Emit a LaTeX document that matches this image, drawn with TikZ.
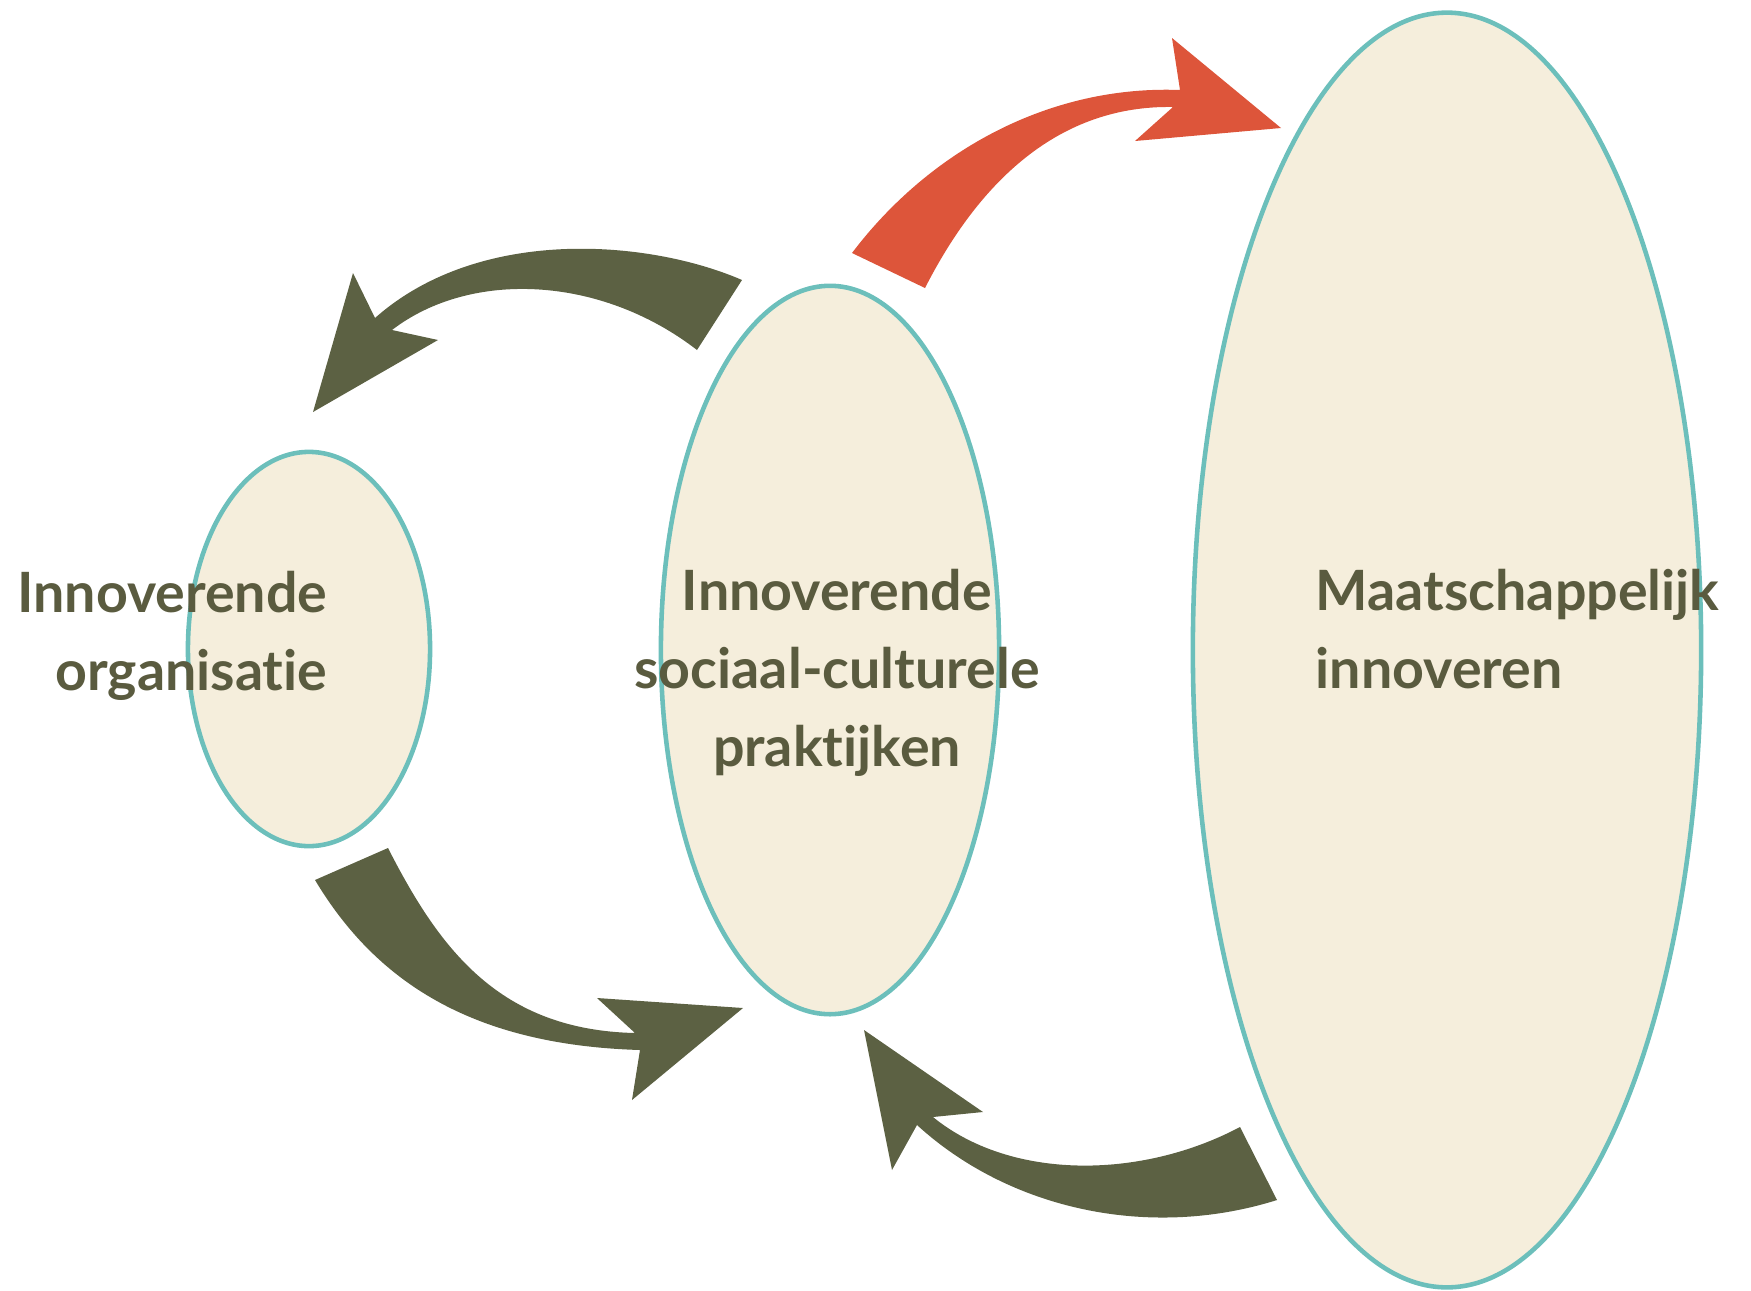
\documentclass[tikz,border=0pt]{standalone}
\usepackage{fontspec}
\setmainfont{Lato}[Ligatures=NoCommon]
\usepackage{tikz}
\usetikzlibrary{shapes.geometric}

\definecolor{olijf}{HTML}{5C6143}
\definecolor{tekstolijf}{HTML}{5A5B3F}
\definecolor{oranjerood}{HTML}{DD553A}
\definecolor{zand}{HTML}{F5EEDC}
\definecolor{turkoois}{HTML}{6CBFBB}

\begin{document}
\begin{tikzpicture}[
            x=0.01cm, y=-0.01cm,
            bol/.style={ellipse, draw=turkoois, fill=zand, line width=1.3pt, inner sep=0pt},
            tekst/.style={text=tekstolijf, font=\bfseries\fontsize{15.8pt}{22.2pt}\selectfont, inner sep=0pt},
            pijl/.style={fill=olijf},
            rodepijl/.style={fill=oranjerood}
        ]
        \useasboundingbox (0,0) rectangle (1751,1290);

        % Ellipsen
        \node[bol, minimum width=2.42cm, minimum height=3.94cm] (org) at (309,649) {};
        \node[bol, minimum width=3.38cm, minimum height=7.28cm] (prak) at (830,650) {};
        \node[bol, minimum width=5.08cm, minimum height=12.74cm] (maat) at (1447,650) {};

        % Teksten
        \node[tekst, align=right, anchor=north east] (orgtxt) at (328,570) {Innoverende\\organisatie};
        \node[tekst, align=center, anchor=north] (praktxt) at (837,568) {Innoverende\\sociaal-culturele\\praktijken};
        \node[tekst, align=left, anchor=north west] (maattxt) at (1315,568) {Maatschappelijk\\innoveren};

        % Pijlen
        \fill[rodepijl] (852,253) .. controls (930,150) and (1050,85) .. (1180,90)
            -- (1172,38) -- (1281,128) -- (1135,141) -- (1173,107)
            .. controls (1060,105) and (980,180) .. (925,288) -- cycle;
        \fill[pijl] (742,280) .. controls (650,240) and (480,225) .. (375,318)
            -- (353,273) -- (313,412) -- (438,340) -- (392,330)
            .. controls (470,270) and (600,275) .. (697,350) -- cycle;
        \fill[pijl] (315,880) .. controls (375,980) and (470,1045) .. (640,1050)
            -- (632,1100) -- (743,1008) -- (597,998) -- (635,1033)
            .. controls (500,1030) and (440,950) .. (388,848) -- cycle;
        \fill[pijl] (1277,1200) .. controls (1150,1240) and (1010,1210) .. (917,1125)
            -- (892,1170) -- (864,1030) -- (983,1112) -- (933,1117)
            .. controls (1010,1180) and (1140,1180) .. (1240,1127) -- cycle;

    \end{tikzpicture}
\end{document}
